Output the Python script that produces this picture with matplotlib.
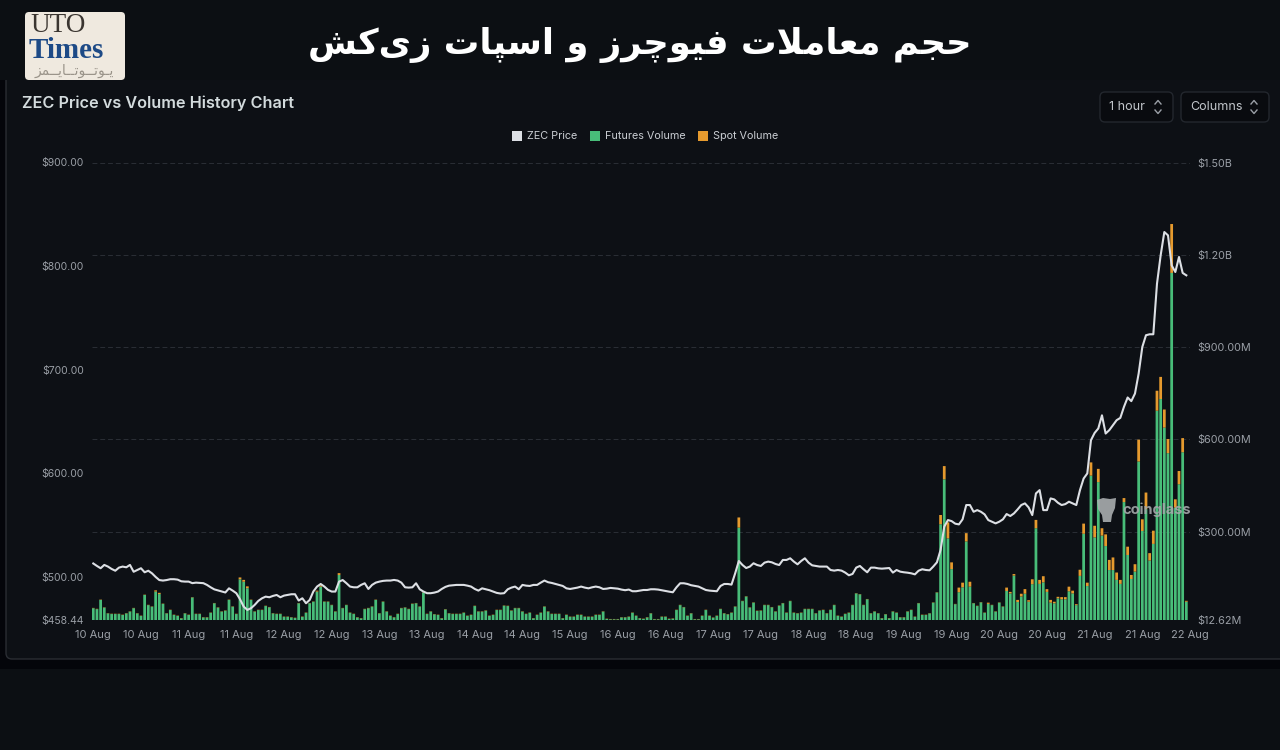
import numpy as np
import matplotlib
matplotlib.use("Agg")
import matplotlib.pyplot as plt
from matplotlib.patches import FancyBboxPatch, Rectangle, Polygon

# ----------------------------
# Data, one value per hour
# ----------------------------
futures_volume = [
    51, 48, 78, 53, 34, 32, 32, 32, 29, 34, 40, 51, 34, 26, 94, 61, 56, 105, 97, 65,
    34, 45, 29, 26, 18, 34, 29, 86, 32, 32, 21, 21, 36, 67, 53, 40, 43, 78, 56, 32,
    145, 137, 116, 78, 40, 45, 45, 58, 54, 34, 32, 32, 23, 23, 21, 19, 67, 23, 36, 67,
    72, 105, 121, 72, 72, 61, 40, 159, 51, 61, 36, 32, 21, 18,
    48, 51, 56, 78, 34, 72, 40, 26, 21, 32, 51, 53, 48, 65, 67, 56, 102, 32, 40, 31,
    29, 18, 47, 34, 32, 32, 32, 36, 26, 29, 58, 40, 40, 43, 26, 29, 45, 45, 59, 58,
    43, 51, 51, 40, 32, 36, 18, 29, 36, 56, 40, 32, 32, 32, 18, 29, 23, 23, 29, 29,
    23, 23, 23, 29, 29, 40, 16, 15, 15, 15, 21, 21, 23,
    36, 26, 18, 16, 21, 34, 15, 15, 23, 23, 16, 17, 45, 61, 54, 26, 34, 15, 15, 26,
    45, 26, 20, 26, 48, 34, 31, 36, 56, 313,
    74, 89, 53, 69, 42, 43, 61, 61, 54, 40, 59, 67, 36, 74, 36, 34, 36, 48, 48, 48,
    34, 43, 45, 34, 45, 61, 26, 23, 32, 36, 61, 99, 96, 61, 80, 34, 40, 34, 18, 31,
    18, 40, 36,
    21, 21, 40, 45, 23, 67, 29, 29, 34, 69, 102, 324, 470, 278, 178, 64, 103, 119, 268, 121,
    67, 58, 70, 36, 65, 61, 40, 69, 56, 107, 99, 157, 71, 89, 98, 72, 129, 311, 130, 135,
    104, 69, 67, 83, 80, 80, 106, 99, 61, 156, 293, 123, 482, 281, 461, 287, 253, 175, 175, 143,
    130, 396, 224, 146, 170, 528, 302, 373, 206, 260, 693, 731, 638, 555, 1141, 378, 454, 558, 72,
]
spot_volume = [1] * 220
for hour, value in [(17, 4), (18, 4), (40, 6), (41, 6), (42, 6), (61, 3), (62, 4), (67, 6), (176, 33)]:
    spot_volume[hour] = value
spot_volume += [
    1, 1, 1, 1, 1, 1, 1, 1, 1, 1, 1, 30, 43, 52, 22, 1, 15, 15, 27, 16,
    1, 1, 1, 1, 4, 1, 1, 1, 1, 11, 5, 5, 7, 9, 15, 5, 16, 27, 13, 20,
    9, 9, 5, 5, 7, 7, 15, 9, 3, 20, 33, 11, 43, 38, 43, 24, 38, 33, 41, 24,
    13, 13, 27, 13, 24, 71, 38, 54, 24, 43, 65, 72, 59, 46, 159, 27, 43, 46, 3,
]
zec_price = [
    513, 510.6, 508.4, 511.6, 510, 507.7, 506, 509, 510, 509.3, 511.6, 505, 506.7, 508.4, 504.5, 506,
    503.5, 500, 497, 496.5, 497, 497.8, 497.8, 497.4, 495.8, 495.5, 495.5, 494, 494.5, 494.2, 494, 492.3,
    490, 488, 487, 486, 485, 489, 486.8, 484.3, 478.5, 471.4, 468.2, 469.8, 473, 476.9, 479.4, 481,
    480.4, 481.7, 482.6, 480.4, 482, 482.6, 483.3, 483.3, 477.2, 479.4, 474.6, 477.8, 486, 490.7, 493.2, 490.7,
    487.5, 485.9, 485.9, 495.5, 497, 494, 490.7, 490, 490, 492.3, 493.9, 488.4, 492.3, 494.5, 495.5, 496.2,
    496.5, 496.5, 497.1, 496.5, 494.5, 490, 489.7, 490, 493.9, 488.1, 485.9, 484.3, 484.3, 484.9, 485.9, 488.4,
    490.4, 491.6, 492, 492.3, 492.3, 492.3, 491.6, 490.7, 488.4, 486.8, 489, 488.1, 487.2, 485.9, 484.6, 484,
    484.3, 488.1, 489.7, 490.7, 488.1, 492.3, 491.6, 491.3, 492.3, 492.3, 494.5, 496.5, 494.9, 494.2, 493.2, 492.3,
    491.3, 489, 488.4, 489, 489.7, 490.7, 489.7, 489, 490, 490.7, 490, 488.4, 488.7, 489.4, 489, 488.7,
    487.8, 487.2, 487.8, 486.2, 486.2, 486.8, 487.4, 487.4, 488.1, 488.1, 487.8, 487.1, 486.5, 485.8, 485.2, 490,
    493.9, 493.9, 493.2, 492, 491.3, 490.7, 489, 487.4, 486.8, 486.5, 486.2, 491.3, 493.2, 493.2, 492.6, 503.5,
    515.4, 511.5, 508.6, 510, 513.2, 511.5, 510.6, 513.8, 514.8, 514.1, 512.5, 511.5, 516.4, 516.4, 518, 514.8,
    512.2, 515.4, 518, 513.8, 511.2, 510.6, 510, 510, 510, 506.7, 506.1, 506.7, 506.1, 504.2, 501.6, 502.9,
    509, 510.6, 507.4, 504.5, 509, 509, 508.3, 508, 508.3, 508.6, 504.2, 506.7, 505.1, 504.5, 504.1, 503.5,
    502.5, 506, 507.4, 506.7, 506.4, 510, 514.1, 526, 548.5, 554.9, 553.9, 551.4, 550.7, 555.6, 569.4, 569.4,
    562.9, 564.5, 562.9, 560.4, 554.9, 553.3, 551.7, 553.3, 555.6, 560.7, 558.8, 561.3, 565.2, 569.4, 571, 567.1,
    559.7, 580.6, 583.8, 564.5, 564.5, 575.8, 574.8, 571.6, 569.4, 570.3, 572.6, 571, 569.4, 583.8, 595, 599.9,
    632, 639, 643.3, 656, 638.4, 641.7, 646.5, 651.3, 653.5, 664.2, 673.2, 669.7, 677, 696.3, 722, 733.3,
    734.2, 734.2, 783, 810.4, 832.9, 829.7, 800.7, 794.3, 808.8, 793.4, 791.1,
]
date_labels = ["10 Aug", "10 Aug", "11 Aug", "11 Aug", "12 Aug", "12 Aug", "13 Aug", "13 Aug",
               "14 Aug", "14 Aug", "15 Aug", "16 Aug", "16 Aug", "17 Aug", "17 Aug", "18 Aug",
               "18 Aug", "19 Aug", "19 Aug", "20 Aug", "20 Aug", "21 Aug", "21 Aug", "22 Aug"]
price_ticks = [458.44, 500, 600, 700, 800, 900]
price_tick_labels = ["$458.44", "$500.00", "$600.00", "$700.00", "$800.00", "$900.00"]
volume_ticks = [12.62, 300, 600, 900, 1200, 1500]
volume_tick_labels = ["$12.62M", "$300.00M", "$600.00M", "$900.00M", "$1.20B", "$1.50B"]

# Persian strings in presentation forms, visual order (matplotlib does no shaping)
page_title = ("\ufeb6\ufb90\ufbfc\ufeaf \ufe95\ufe8e\ufb59\ufeb3\ufe8d \ufeed "
              "\ufeaf\ufeae\ufb7c\ufeee\ufbff\ufed3 \ufe95\ufefc\ufee3\ufe8e\ufecc\ufee3 \ufee2\ufea0\ufea3")
logo_persian = "\ufeb0\ufee4\u0640\u0640\ufbfe\ufe8e\u0640\u0640\ufe97\ufeee\u0640\u0640\ufe97\ufeee\u0640\ufbfe"

GREEN = "#48bd79"
ORANGE = "#e59a2e"
LINE = "#dcdfe4"
TICK = "#9a9fa6"
PAGE = "#0c0f13"
PANEL = "#0d1015"
FONT = ["Inter", "DejaVu Sans"]

# ----------------------------
# Page background and panel (overlay axes in pixel coordinates)
# ----------------------------
fig = plt.figure(figsize=(12.8, 7.5), dpi=100, facecolor=PAGE)
bg = fig.add_axes([0, 0, 1, 1], zorder=0)
bg.set_xlim(0, 1280)
bg.set_ylim(750, 0)
bg.axis("off")
bg.add_patch(Rectangle((0, 80), 1280, 589, color="#04050a", lw=0))
bg.add_patch(FancyBboxPatch((6, 70), 1320, 589, boxstyle="round,pad=0,rounding_size=6",
                            fc=PANEL, ec="#2a2d33", lw=1))
bg.add_patch(Rectangle((0, 0), 1280, 80, color=PAGE, lw=0))

# ----------------------------
# Chart
# ----------------------------
ax = fig.add_axes([92 / 1280, 1 - 620 / 750, (1190 - 92) / 1280, (620 - 162.5) / 750], zorder=1)
ax.patch.set_alpha(0)
hours = np.arange(len(futures_volume))
ax.bar(hours, futures_volume, width=0.75, color=GREEN, lw=0, snap=False)
ax.bar(hours, spot_volume, width=0.75, bottom=futures_volume, color=ORANGE, lw=0, snap=False)
ax.set_xlim(-0.35, 298.8)
ax.set_ylim(12.62, 1500)
ax.set_xticks(np.arange(len(date_labels)) * 13)
ax.set_xticklabels(date_labels, fontsize=8, color=TICK, family=FONT)
ax.tick_params(axis="x", length=0, pad=7)
ax.grid(axis="y", color="#2a2e35", lw=0.7, ls=(0, (5, 3)))
ax.set_axisbelow(True)
for spine in ax.spines.values():
    spine.set_visible(False)

price_ax = ax.twinx()
price_ax.plot(hours, zec_price, color=LINE, lw=1.5, solid_joinstyle="round")
price_ax.set_ylim(458.44, 900)
price_ax.yaxis.tick_left()
price_ax.set_yticks(price_ticks)
price_ax.set_yticklabels(price_tick_labels, fontsize=7.5, color=TICK, family=FONT)
price_ax.tick_params(axis="y", length=0, pad=6)
for spine in price_ax.spines.values():
    spine.set_visible(False)

# twinx moves the first axis' ticks, so the volume scale goes right only here
ax.yaxis.tick_right()
ax.set_yticks(volume_ticks)
ax.set_yticklabels(volume_tick_labels, fontsize=7.8, color=TICK, family=FONT)
ax.tick_params(axis="y", length=0, pad=5)

# ----------------------------
# Header, legend, buttons, watermark, logo
# ----------------------------
fg = fig.add_axes([0, 0, 1, 1], zorder=5)
fg.set_xlim(0, 1280)
fg.set_ylim(750, 0)
fg.axis("off")

fg.text(640, 45, page_title, color="white", fontsize=25.5, weight="bold", family="DejaVu Sans",
        ha="center", va="center")
fg.text(22, 103, "ZEC Price vs Volume History Chart", color="#d3dbdd", fontsize=11.7, weight="semibold",
        family=FONT, va="center")

for x0, color, label in [(512, LINE, "ZEC Price"), (590, GREEN, "Futures Volume"), (698, ORANGE, "Spot Volume")]:
    fg.add_patch(Rectangle((x0, 131), 10, 10, color=color, lw=0))
    fg.text(x0 + 15, 136, label, color="#c9cdd2", fontsize=7.8, family=FONT, va="center")

for x0, width, label in [(1100, 73, "1 hour"), (1181, 88, "Columns")]:
    fg.add_patch(FancyBboxPatch((x0, 92), width, 30, boxstyle="round,pad=0,rounding_size=5",
                                fc="#090b0f", ec="#23272e", lw=1))
    fg.text(x0 + 9, 107, label, color="#c3c7cc", fontsize=9, family=FONT, va="center")
    cx = x0 + width - 15
    fg.plot([cx - 3, cx, cx + 3], [104, 100.5, 104], color="#9a9fa6", lw=1)
    fg.plot([cx - 3, cx, cx + 3], [110, 113.5, 110], color="#9a9fa6", lw=1)

fg.add_patch(Polygon([(1097, 500), (1103, 498), (1110, 499), (1116, 498), (1115, 508),
                      (1112, 515), (1111, 522), (1103, 522), (1102, 515), (1098, 509)],
                     color="#a9adaf", alpha=0.9, lw=0))
fg.text(1122, 510, "coinglass", color="#a4a8aa", alpha=0.9, fontsize=10.5, weight="bold", family=FONT, va="center")

fg.add_patch(FancyBboxPatch((25, 12), 100, 68, boxstyle="round,pad=0,rounding_size=4", fc="#efe9df", ec="none"))
fg.text(30, 26, "UTO", color="#3a3530", fontsize=19.5, family="Liberation Serif", va="center")
fg.text(29, 51, "Times", color="#1d4a86", fontsize=21, weight="bold", family="Liberation Serif", va="center")
fg.text(74, 71, logo_persian, color="#9a948a", fontsize=10, family="DejaVu Sans", ha="center", va="center")

plt.savefig("out.png", dpi=100, facecolor=fig.get_facecolor())
